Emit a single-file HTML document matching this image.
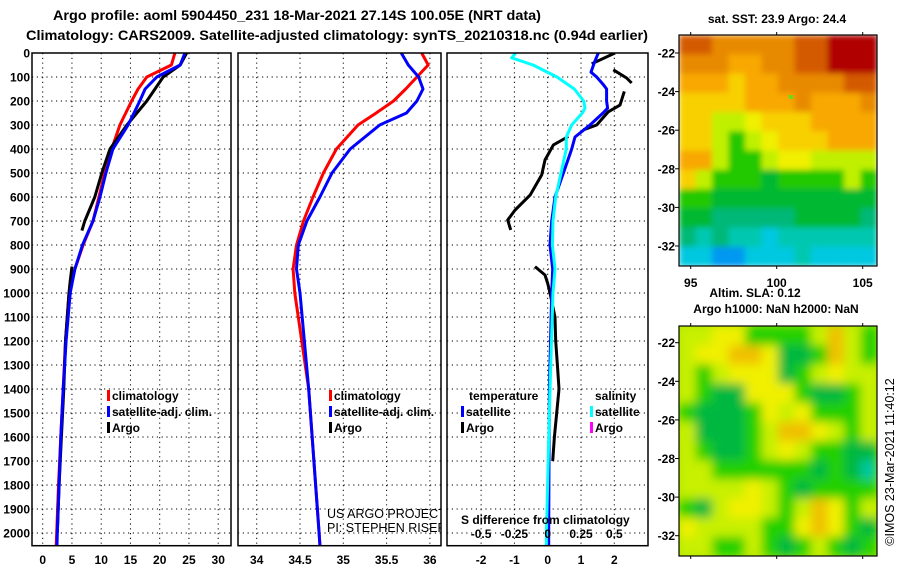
<!DOCTYPE html>
<html><head><meta charset="utf-8">
<style>
html,body{margin:0;padding:0;background:#fff;}
svg{display:block;font-family:"Liberation Sans",sans-serif;}
.b{font-weight:bold;font-size:12px;}
</style></head>
<body>
<svg id="fig" width="900" height="580" viewBox="0 0 900 580">
<defs>
<clipPath id="c1"><rect x="32" y="53" width="199" height="493"/></clipPath>
<clipPath id="c2"><rect x="238" y="53" width="203" height="493"/></clipPath>
<clipPath id="c3"><rect x="447" y="53" width="201" height="493"/></clipPath>
<clipPath id="cm1"><rect x="679" y="35" width="198" height="231"/></clipPath>
<clipPath id="cm2"><rect x="679" y="326" width="198" height="230"/></clipPath>
<filter id="blur" x="-10%" y="-10%" width="120%" height="120%"><feGaussianBlur stdDeviation="5" edgeMode="duplicate"/></filter>
<filter id="blur1" x="-10%" y="-10%" width="120%" height="120%"><feGaussianBlur stdDeviation="3" edgeMode="duplicate"/></filter>
</defs>
<text x="53" y="20" textLength="488" lengthAdjust="spacingAndGlyphs" style="font-size:14px;font-weight:bold">Argo profile: aoml 5904450_231 18-Mar-2021 27.14S 100.05E (NRT data)</text>
<text x="26" y="40" textLength="622" lengthAdjust="spacingAndGlyphs" style="font-size:14px;font-weight:bold">Climatology: CARS2009. Satellite-adjusted climatology: synTS_20210318.nc (0.94d earlier)</text>
<g id="grid"></g>
<g id="marks"></g>
<g id="frames"></g>
<g id="labels"></g>
<g id="maps"></g>
<text x="327" y="518" style="font-size:12.5px" clip-path="url(#c2)">US ARGO PROJECT</text>
<text x="327" y="532" style="font-size:12.5px" clip-path="url(#c2)">PI: STEPHEN RISER</text>
<text x="461" y="524" class="b">S difference from climatology</text>
<text x="777" y="23" text-anchor="middle" class="b">sat. SST: 23.9 Argo: 24.4</text>
<text x="755" y="297" text-anchor="middle" class="b">Altim. SLA: 0.12</text>
<text x="776" y="313" text-anchor="middle" class="b">Argo h1000: NaN h2000: NaN</text>
<text transform="translate(894,462) rotate(-90)" text-anchor="middle" style="font-size:12.5px">©IMOS 23-Mar-2021 11:40:12</text>
</svg>
<script>
// ---- data ----
const tDepth = [0,50,100,150,200,300,400,500,600,700,800,900,1000,1200,1400,1600,1800,2000,2050];
const tClim  = [22.6,22.0,17.8,16.3,15.2,13.2,11.8,10.6,9.6,8.6,6.9,5.5,4.5,3.9,3.5,3.1,2.7,2.4,2.3];
const tSat   = [24.3,23.5,19.5,17.5,16.6,14.6,12.0,10.8,9.8,8.6,6.8,5.5,4.7,4.0,3.5,3.1,2.8,2.5,2.45];
const argoTDepth = [0,50,100,200,300,400,500,600,700,740];
const argoT      = [24.6,23.5,20.6,17.8,14.4,11.5,10.1,8.9,7.2,6.7];
const argoTDeepDepth = [890,950,1000,1200,1400,1600,1800,2000];
const argoTDeep      = [5.0,4.7,4.5,3.9,3.6,3.2,2.8,2.5];
const sDepth = [0,50,100,150,200,250,300,400,500,600,700,800,900,1000,1400,2000,2050];
const sClim  = [35.905,35.98,35.85,35.72,35.58,35.38,35.17,34.92,34.77,34.65,34.54,34.46,34.42,34.44,34.6,34.72,34.73];
const sSat   = [35.67,35.75,35.87,35.92,35.85,35.73,35.42,35.08,34.87,34.73,34.58,34.48,34.46,34.5,34.6,34.72,34.73];
const dTDepth = [0,40,80,100,130,150,200,230,250,300,350,400,500,600,700,800,900,1000,1400,1700,2000,2050];
const dTSat   = [1.52,1.4,1.3,1.47,1.66,1.77,1.77,1.8,1.66,1.27,0.82,0.72,0.47,0.22,0.12,0.07,0.15,0.12,0.05,0.04,0.03,0.03];
const dSDepth = [0,20,50,100,150,200,230,250,300,350,400,500,600,700,800,900,1000,1400,2000,2050];
const dSSat   = [-0.24,-0.27,-0.11,0.07,0.2,0.27,0.28,0.26,0.18,0.14,0.14,0.1,0.06,0.04,0.035,0.055,0.04,0.017,-0.01,-0.01];
const dTArgoSegs = [
  {depth:[0,45], val:[2.02,1.32]},
  {depth:[70,104,125], val:[1.97,2.37,2.52]},
  {depth:[160,217,245,300,320], val:[2.3,2.17,1.82,1.47,1.07]},
  {depth:[348,383,446,508,592,654,696,737], val:[0.62,0.17,-0.08,-0.18,-0.53,-0.98,-1.2,-1.11]},
  {depth:[890,925,960,1000,1100,1200,1300,1400,1500,1600,1700], val:[-0.38,-0.08,0.0,0.07,0.22,0.24,0.29,0.34,0.27,0.2,0.15]}
];
const tTicks = [0,5,10,15,20,25,30];
const sTicks = [34,34.5,35,35.5,36];
const sTickLabels = ["34","34.5","35","35.5","36"];
const dTicks = [-2,-1,0,1,2];
const dsTickLabels = ["-0.5","-0.25","0","0.25","0.5"];
const depthTicks = [0,100,200,300,400,500,600,700,800,900,1000,1100,1200,1300,1400,1500,1600,1700,1800,1900,2000];
const latTicks = [-22,-24,-26,-28,-30,-32];
const lonTicks = [95,100,105];
const sstGrid = ["BBOOOOOBBRRR","OOOooOOBBRRR","oooYooOOOOBB","YYYYoooOoooO","YYLLyYYYoooo","YYLGLyYYYooo","ooLGGLyyLLLL","YLGGGgGGGGLG","GGgggggggggg","ggTTTTTggggT","TtTttCtttttt","CCbbCCCtCCCC"];
const slaGrid = ["LLYYGGGGLOLG","LYYOOYDDGOLG","LGLYYYDGLYLL","LGDDYYYGDDGL","GDDDGYLYGGGL","LDDDGLOOYLGL","LGDDGLYLGGDD","LLGGGGGGDGDT","LLLLYLGDGGGG","GDLYYLGLOYGL","YLLLLGGYOYGD","LLGGLGDGLGDG"];

// ---- scales ----
const NS="http://www.w3.org/2000/svg";
const yTop=53, yBot=545.7;
const yD = d => yTop + 0.24*d;
const xT = t => 42.7 + 5.85*t;
const xS = s => 256.7 + 86.6*(s-34);
const xDT = d => 547.7 + 33.3*d;
const xDS = d => 547.7 + 133.2*d;
const yLat1 = l => 53 + (-22 - l)*19.3;
const yLat2 = l => 342.7 + (-22 - l)*19.3;
const xLon = l => 690.7 + (l-95)*17.2;
const P=[{l:32,r:231},{l:238,r:441},{l:447,r:648}];

function mk(tag, attrs, parent){const e=document.createElementNS(NS,tag);for(const k in attrs)e.setAttribute(k,attrs[k]);parent.appendChild(e);return e;}
const G=document.getElementById('grid'), M=document.getElementById('marks'), F=document.getElementById('frames'), L=document.getElementById('labels'), MP=document.getElementById('maps');

const dot={stroke:"#000","stroke-width":1,"stroke-dasharray":"1.2,3.6"};
P.forEach(p=>{
  depthTicks.forEach(d=>{ if(d===0)return;
    const ln=mk('line',Object.assign({x1:p.l,x2:p.r,y1:yD(d),y2:yD(d)},dot),G);
    
    
  });
});
tTicks.forEach(t=>{const ln=mk('line',Object.assign({x1:xT(t),x2:xT(t),y1:yTop,y2:yBot},dot),G);
  
  });
sTicks.forEach(s=>{const ln=mk('line',Object.assign({x1:xS(s),x2:xS(s),y1:yTop,y2:yBot},dot),G);
  
  });
dTicks.forEach(s=>{const ln=mk('line',Object.assign({x1:xDT(s),x2:xDT(s),y1:yTop,y2:yBot},dot),G);
  
  });

function line(depths, vals, xs, color, name, clip, w){
  const pts=depths.map((d,i)=>xs(vals[i]).toFixed(1)+","+yD(d).toFixed(1)).join(" ");
  const e=mk('polyline',{points:pts,fill:"none",stroke:color,"stroke-width":w||3,"stroke-linejoin":"round","clip-path":"url(#"+clip+")"},M);
  
  
}
line(tDepth,tClim,xT,"#ff0000","temperature-climatology-line","c1");
line(argoTDepth,argoT,xT,"#000","argo-temperature-line","c1");
line(argoTDeepDepth,argoTDeep,xT,"#000","argo-temperature-deep-line","c1");
line(tDepth,tSat,xT,"#0000ff","temperature-satellite-line","c1");
line(sDepth,sClim,xS,"#ff0000","salinity-climatology-line","c2");
line(sDepth,sSat,xS,"#0000ff","salinity-satellite-line","c2");
dTArgoSegs.forEach(s=>line(s.depth,s.val,xDT,"#000","argo-temperature-difference-line","c3"));
line(dTDepth,dTSat,xDT,"#0000ff","temperature-satellite-difference-line","c3");
line(dSDepth,dSSat,xDS,"#00ffff","salinity-satellite-difference-line","c3");

P.forEach(p=>{const r=mk('rect',{x:p.l,y:yTop,width:p.r-p.l,height:yBot-yTop,fill:"none",stroke:"#000","stroke-width":1.5},F);
  
  });

function txt(x,y,s,anchor,name,cls,color){const e=mk('text',{x:x,y:y,"text-anchor":anchor||"start",class:cls||"b",fill:color||"#000"},L);e.textContent=s;
  
  return e;}
depthTicks.forEach(d=>txt(30,yD(d)+4.5,String(d),"end","depth-tick-label"));
tTicks.forEach(t=>txt(xT(t),564,String(t),"middle","temperature-tick-label"));
sTicks.forEach((s,i)=>txt(xS(s),564,sTickLabels[i],"middle","salinity-tick-label"));
dTicks.forEach(s=>txt(xDT(s),564,String(s),"middle","difference-tick-label"));
dTicks.forEach((s,i)=>txt(xDT(s),538,dsTickLabels[i],"middle","salinity-difference-tick-label"));
function leg(x,y,color,label,name){
  const r=mk('rect',{x:x-4,y:y-10,width:3,height:11,fill:color},L);
  
  
  if(label)txt(x+1,y,label,"start",name);
}
leg(111,400,"#ff0000","climatology","legend-climatology");
leg(111,416,"#0000ff","satellite-adj. clim.","legend-satellite-adj");
leg(111,432,"#000","Argo","legend-argo");
leg(333,400,"#ff0000","climatology","legend-climatology-salinity");
leg(333,416,"#0000ff","satellite-adj. clim.","legend-satellite-adj-salinity");
leg(333,432,"#000","Argo","legend-argo-salinity");
txt(469,400,"temperature","start","legend-temperature-heading");
txt(595,400,"salinity","start","legend-salinity-heading");
leg(465,416,"#0000ff","satellite","legend-temperature-satellite");
leg(465,432,"#000","Argo","legend-temperature-argo");
leg(594,416,"#00ffff","satellite","legend-salinity-satellite");
leg(594,432,"#ff00ff","Argo","legend-salinity-argo");

const sstCol={R:"#b00000",B:"#d45a00",O:"#e88a00",o:"#f8a800",Y:"#f8d000",y:"#f0f000",L:"#c0f000",G:"#20c800",g:"#00b830",T:"#00b878",t:"#00c8b0",C:"#00c8e0",b:"#0098f0"};
const slaCol={Y:"#f0f000",O:"#f0c000",L:"#c8f000",G:"#20d000",D:"#00b840",T:"#00c8a0"};
const mx=679,mw=198,m1y=35,mh=231,m2y=326;
const cw=mw/12, ch1=mh/12;
const s1=mk('g',{"clip-path":"url(#cm1)"},MP);
const s1i=mk('g',{filter:"url(#blur1)"},s1);
sstGrid.forEach((row,r)=>{[...row].forEach((c,k)=>{
  const e=mk('rect',{x:(mx+k*cw).toFixed(1),y:(m1y+r*ch1).toFixed(1),width:(cw+0.6).toFixed(1),height:(ch1+0.6).toFixed(1),fill:sstCol[c]},s1i);
  
  
});});
const mark=mk('rect',{x:789,y:95,width:4,height:4,fill:"#60e020"},MP);


const bg=mk('rect',{x:mx,y:m2y,width:mw,height:230,fill:"#b0e800"},MP);


const sg=mk('g',{"clip-path":"url(#cm2)"},MP);
const sgi=mk('g',{filter:"url(#blur)"},sg);
slaGrid.forEach((row,r)=>{[...row].forEach((c,k)=>{
  const e=mk('rect',{x:(mx+k*cw).toFixed(1),y:(m2y+r*230/12).toFixed(1),width:(cw+0.6).toFixed(1),height:(230/12+0.6).toFixed(1),fill:slaCol[c]},sgi);
  
  
});});
[[m1y,mh,yLat1,"sst"],[m2y,230,yLat2,"sla"]].forEach(([y0,h,yl,nm])=>{
  const f=mk('rect',{x:mx,y:y0,width:mw,height:h,fill:"none",stroke:"#000","stroke-width":1.2},MP);
  
  
  latTicks.forEach(l=>{
    txt(675,yl(l)+4.5,String(l),"end",nm+"-latitude-label");
    mk('line',{x1:mx-4,x2:mx,y1:yl(l),y2:yl(l),stroke:"#000"},MP);
  });
  lonTicks.forEach(l=>{
    mk('line',{x1:xLon(l),x2:xLon(l),y1:y0-3,y2:y0,stroke:"#000"},MP);
    mk('line',{x1:xLon(l),x2:xLon(l),y1:y0+h,y2:y0+h+3,stroke:"#000"},MP);
  });
});
lonTicks.forEach(l=>txt(xLon(l),287,String(l),"middle","sst-longitude-label"));
</script>
</body></html>
